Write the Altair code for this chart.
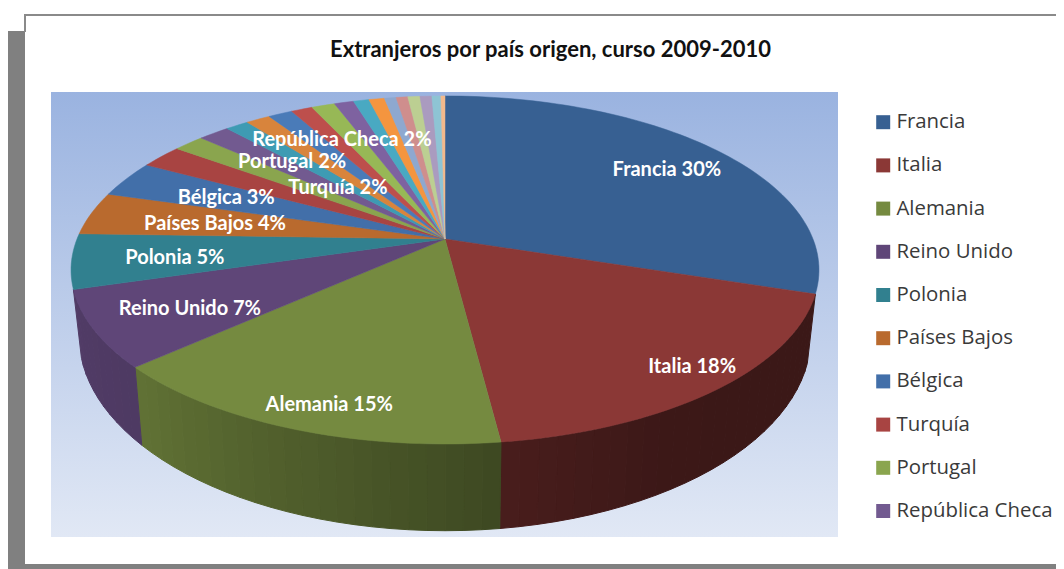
import altair as alt
import numpy as np
import pandas as pd

# ---- data ----
countries = ["Francia", "Italia", "Alemania", "Reino Unido", "Polonia", "Países Bajos",
             "Bélgica", "Turquía", "Portugal", "República Checa",
             "Otro 11", "Otro 12", "Otro 13", "Otro 14", "Otro 15", "Otro 16", "Otro 17",
             "Otro 18", "Otro 19", "Otro 20", "Otro 21", "Otro 22", "Otro 23", "Otro 24"]
shares = [30.0, 18.0, 15.3, 7.1, 5.1, 4.0, 3.4, 2.2, 1.6, 1.6,
          1.2, 1.25, 1.25, 1.1, 1.2, 1.0, 0.8, 0.8, 0.6, 0.6, 0.62, 0.61, 0.46, 0.21]
shown_pct = [30, 18, 15, 7, 5, 4, 3, 2, 2, 2]
colors = ["#376092", "#8b3836", "#758a40", "#5f4678", "#31808f", "#b96a2e", "#426fa9",
          "#a84442", "#8aa54e", "#725a90",
          "#3e9bb3", "#d8843c", "#4a7bb8", "#bd4f4c", "#97b856", "#7e62a0", "#49a9c2",
          "#f4953f", "#8ea8cf", "#cf8e8d", "#bccf92", "#aa9bbf", "#8ec4d4", "#f2b98c"]
wall_countries = ["Italia", "Alemania", "Reino Unido"]
title_text = "Extranjeros por país origen, curso 2009-2010"

# ---- layout of the drawing ----
W, H = 1048, 561
OFF = 8
TOP = dict(A=368.0, B=168.5, p=0.178, ax=445.0, ay=239.0)
BASE = dict(A=360.0, B=188.0, p=0.178, ax=445.0, ay=302.0)
label_angle = [55.5, 138.3, 197.8, 239.5, 261.7, 278.6, 292.8, 316.7, 318.1, 334.7]
label_radius = [0.79, 0.89, 0.876, 0.75, 0.728, 0.643, 0.675, 0.449, 0.678, 0.733]
shade_angle = [90, 108, 150, 172, 226, 252, 270]
shade_factor = [0.42, 0.42, 0.43, 0.52, 0.82, 0.85, 0.85]


def project(theta_deg, r, m):
    t = np.radians(theta_deg)
    s, c = r * np.sin(t), r * np.cos(t)
    d = 1 + m["p"] * c
    return [float(m["ax"] + m["A"] * s / d - OFF), float(m["ay"] - m["B"] * c / d - OFF)]


def shade(hex_color, f):
    rgb = [int(hex_color[i:i + 2], 16) for i in (1, 3, 5)]
    return "#%02x%02x%02x" % tuple(int(round(v * f)) for v in rgb)


edges = np.concatenate([[0], np.cumsum(shares)]) / sum(shares) * 360.0

top_features, wall_features = [], []
for i, name in enumerate(countries):
    a0, a1 = edges[i], edges[i + 1]
    n = max(2, int((a1 - a0) / 1.5) + 2)
    arc = [project(a, 1, TOP) for a in np.linspace(a0, a1, n)]
    ring = [project(0, 0, TOP)] + arc + [project(0, 0, TOP)]
    top_features.append({"type": "Feature", "properties": {"name": name},
                         "geometry": {"type": "Polygon", "coordinates": [ring]}})
    if name in wall_countries:
        m = max(2, int((a1 - a0) / 2.5) + 2)
        steps = np.linspace(a0, a1, m)
        for j in range(m - 1):
            b0, b1 = steps[j], steps[j + 1]
            quad = [project(b0, 1, TOP), project(b1, 1, TOP),
                    project(b1, 1, BASE), project(b0, 1, BASE), project(b0, 1, TOP)]
            f = float(np.interp((b0 + b1) / 2, shade_angle, shade_factor))
            wall_features.append({"type": "Feature", "properties": {"fill": shade(colors[i], f)},
                                  "geometry": {"type": "Polygon", "coordinates": [quad]}})

proj = dict(type="identity", scale=1, translate=[0, 0])

walls = alt.Chart(alt.InlineData(values=wall_features)).mark_geoshape(strokeWidth=1, opacity=1).encode(
    fill=alt.Color("properties.fill:N", scale=None, legend=None),
    stroke=alt.Color("properties.fill:N", scale=None, legend=None),
).project(**proj)

tops = alt.Chart(alt.InlineData(values=top_features)).mark_geoshape(strokeWidth=0.5, opacity=1).encode(
    fill=alt.Color(
        "properties.name:N",
        scale=alt.Scale(domain=countries, range=colors),
        legend=alt.Legend(
            title=None, orient="none", legendX=873 - OFF, legendY=112 - OFF,
            values=countries[:10], symbolType="square", symbolSize=196, symbolStrokeWidth=0,
            labelFont="Open Sans", labelFontSize=20.4, labelColor="#3a3a3a", labelLimit=300,
            rowPadding=22.2, labelOffset=3, columns=1,
        ),
    ),
    stroke=alt.Color("properties.name:N", scale=alt.Scale(domain=countries, range=colors), legend=None),
).project(**proj)

lab_rows = []
for i, pct in enumerate(shown_pct):
    x, y = project(label_angle[i], label_radius[i], TOP)
    lab_rows.append({"label": f"{countries[i]} {pct}%", "px": x, "py": y})

labels = alt.Chart(pd.DataFrame(lab_rows)).mark_text(
    font="Lato", fontWeight="bold", fontSize=20, color="white", align="center", baseline="middle", dy=1
).encode(
    x=alt.X("px:Q", scale=alt.Scale(domain=[0, W], range=[0, W]), axis=None),
    y=alt.Y("py:Q", scale=alt.Scale(domain=[0, H], range=[0, H]), axis=None),
    text="label:N",
)


def box(x0, y0, x1, y1, fill):
    return alt.Chart(pd.DataFrame({"k": [0]})).mark_rect(fill=fill).encode(
        x=alt.value(x0 - OFF), x2=alt.value(x1 - OFF), y=alt.value(y0 - OFF), y2=alt.value(y1 - OFF))


frame = [
    box(8, 31, 25, 569, "#808080"),
    box(24, 14, 26, 32, "#8a8a8a"),
    box(24, 14, 1064, 16, "#8a8a8a"),
    box(8, 564, 1064, 569, "#808080"),
]
bg = box(51, 92, 838, 537, alt.Gradient(
    gradient="linear", x1=0, y1=0, x2=0, y2=1,
    stops=[alt.GradientStop(offset=0, color="#9ab3e0"),
           alt.GradientStop(offset=1, color="#e1e8f5")]))

chart = alt.layer(*frame, bg, walls, tops, labels).resolve_scale(
    fill="independent", stroke="independent"
).properties(
    width=W, height=H, padding=0, autosize=alt.AutoSizeParams(type="none"),
    background="white",
    title=alt.TitleParams(
        title_text, frame="group", anchor="start", align="left", baseline="middle",
        dx=322, dy=64, offset=0, font="Lato", fontWeight="bold", fontSize=22, color="#111111"),
).configure_view(stroke=None)

chart.save("out.html", embed_options={"renderer": "svg", "actions": False})
